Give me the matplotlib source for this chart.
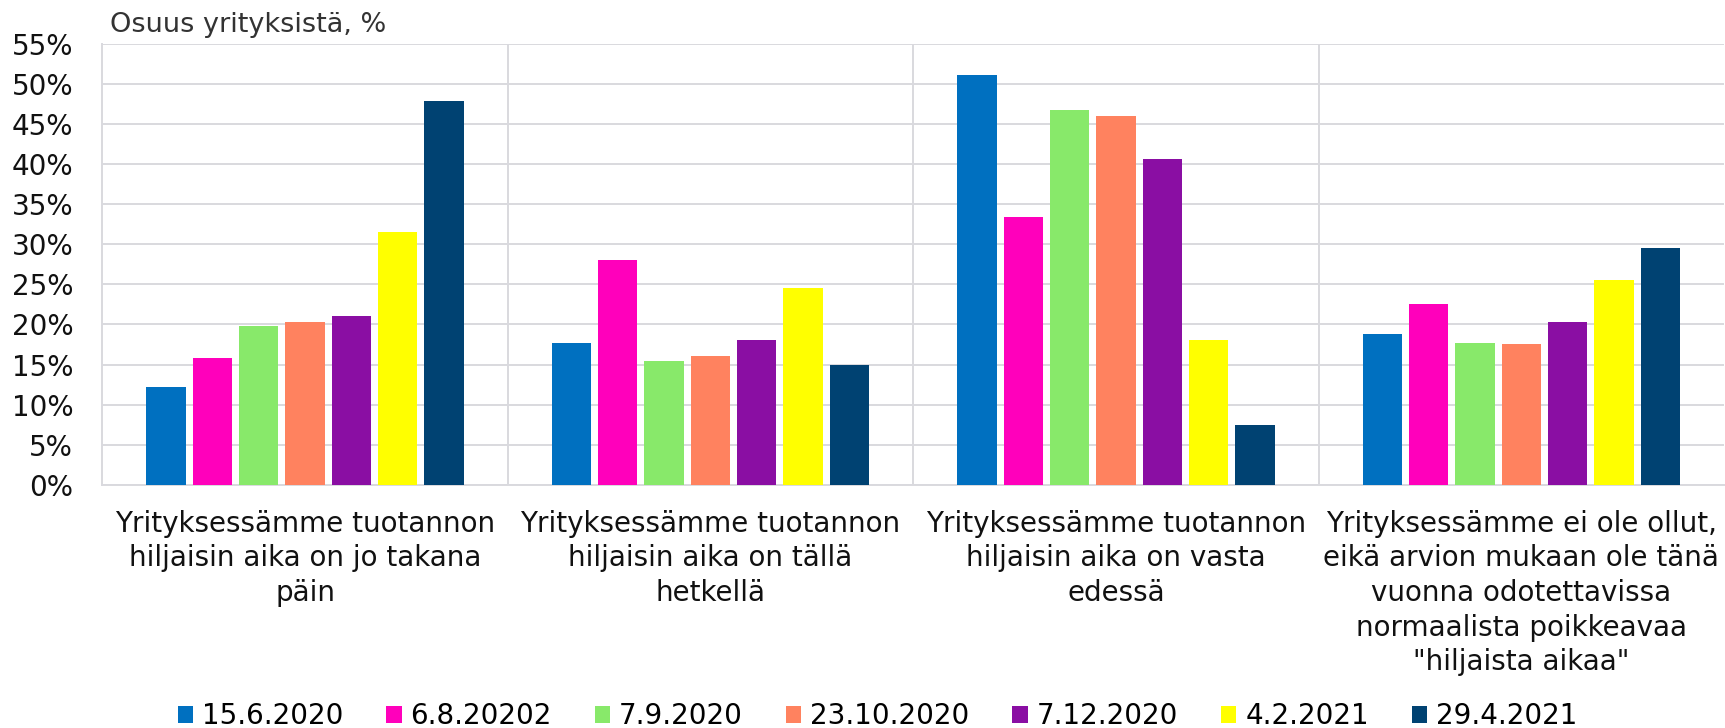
import numpy as np
import matplotlib
matplotlib.use("Agg")
import matplotlib.pyplot as plt
from matplotlib.patches import Patch

categories = [
    "Yrityksessämme tuotannon\nhiljaisin aika on jo takana\npäin",
    "Yrityksessämme tuotannon\nhiljaisin aika on tällä\nhetkellä",
    "Yrityksessämme tuotannon\nhiljaisin aika on vasta\nedessä",
    "Yrityksessämme ei ole ollut,\neikä arvion mukaan ole tänä\nvuonna odotettavissa\nnormaalista poikkeavaa\n\"hiljaista aikaa\"",
]
series_names = ["15.6.2020", "6.8.20202", "7.9.2020", "23.10.2020", "7.12.2020", "4.2.2021", "29.4.2021"]
s_15_6_2020 = [12.2, 17.7, 51.1, 18.8]
s_6_8_2020 = [15.8, 28.0, 33.4, 22.6]
s_7_9_2020 = [19.8, 15.5, 46.8, 17.7]
s_23_10_2020 = [20.3, 16.0, 46.0, 17.5]
s_7_12_2020 = [21.0, 18.0, 40.6, 20.3]
s_4_2_2021 = [31.5, 24.6, 18.1, 25.5]
s_29_4_2021 = [47.9, 14.9, 7.5, 29.6]
series_values = [s_15_6_2020, s_6_8_2020, s_7_9_2020, s_23_10_2020, s_7_12_2020, s_4_2_2021, s_29_4_2021]
colors = ["#0070C0", "#FF00BB", "#88E96A", "#FF825F", "#8A0EA3", "#FFFF00", "#004272"]
yticks = list(range(0, 56, 5))
ytick_labels = [f"{v}%" for v in yticks]
title = "Osuus yrityksistä, %"

plt.rcParams['font.family'] = ['DejaVu Sans']
W, H = 1725, 728
fig = plt.figure(figsize=(W / 100, H / 100), dpi=100)
ax = fig.add_axes([102.3 / W, 1 - 484.7 / H, (1724 - 102.3) / W, (484.7 - 44) / H])

grid_c = "#D9D9DE"
x = np.arange(len(categories))
n = len(series_values)
group = 0.8
slot = group / n
bw = slot * 0.85
for i, (vals, c, name) in enumerate(zip(series_values, colors, series_names)):
    offs = -group / 2 + slot * (i + 0.5)
    ax.bar(x + offs, vals, width=bw, color=c, label=name, zorder=3, linewidth=0)

ax.set_xlim(-0.5, len(categories) - 0.5)
ax.set_ylim(0, 55)
ax.set_yticks(yticks)
ax.set_yticklabels(ytick_labels, fontsize=20, color="#111111")
ax.set_xticks(x)
ax.set_xticklabels(categories, fontsize=20, color="#111111", linespacing=1.3)
ax.tick_params(axis='y', length=0, pad=21)
ax.tick_params(axis='x', length=0, pad=18)
ax.yaxis.grid(True, color=grid_c, linewidth=1.4, zorder=0)
for b in np.arange(0.5, len(categories) - 0.5, 1.0):
    ax.axvline(b, color=grid_c, linewidth=1.4, zorder=0)
for side in ["top", "right"]:
    ax.spines[side].set_visible(False)
for side in ["left", "bottom"]:
    ax.spines[side].set_color(grid_c)
    ax.spines[side].set_linewidth(1.4)
ax.set_axisbelow(True)

fig.text(110 / W, 1 - 32.3 / H, title, fontsize=19.5, color="#333333", ha="left", va="baseline")

handles = [Patch(facecolor=c, edgecolor='none') for c in colors]
fig.legend(handles, series_names, loc="center", bbox_to_anchor=(877.5 / W, 1 - 716 / H),
           ncol=n, frameon=False, fontsize=20, handlelength=0.55, handleheight=0.55,
           handletextpad=0.32, columnspacing=1.55, borderpad=0, borderaxespad=0)

fig.savefig("out.png", dpi=100)
